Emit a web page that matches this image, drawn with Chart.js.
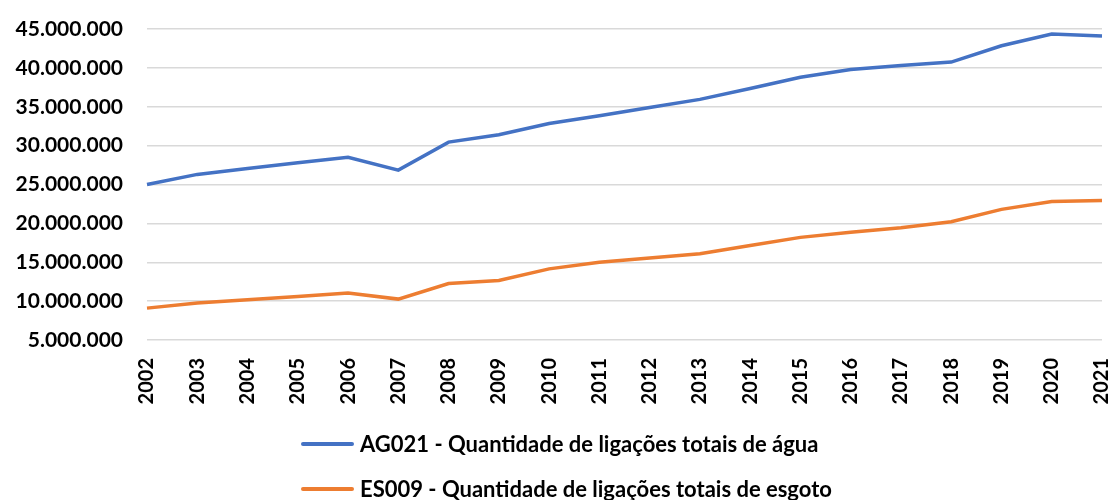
<!DOCTYPE html>
<html>
<head>
<meta charset="utf-8">
<script src="https://cdn.jsdelivr.net/npm/chart.js@4.4.1/dist/chart.umd.min.js"></script>
<style>
  html, body { margin: 0; padding: 0; background: #fff; }
  #wrap { position: relative; width: 1112px; height: 500px; }
  #legend { position: absolute; left: 301px; top: 421px; font-family: Lato, sans-serif; font-weight: bold; font-size: 22px; color: #000; }
  #legend div { display: flex; align-items: center; height: 45px; white-space: nowrap; }
  #legend span.swatch { display: inline-block; width: 53px; height: 4px; border-radius: 2px; margin-right: 6px; }
</style>
</head>
<body>
<div id="wrap">
  <canvas id="chart" width="1112" height="500"></canvas>
  <div id="legend"></div>
</div>
<script>
const years = ["2002","2003","2004","2005","2006","2007","2008","2009","2010","2011",
               "2012","2013","2014","2015","2016","2017","2018","2019","2020","2021"];

const aguaLabel = "AG021 - Quantidade de ligações totais de água";
const aguaValues = [25000000, 26300000, 27050000, 27800000, 28500000, 26850000, 30450000, 31400000, 32850000, 33850000,
                    34900000, 35950000, 37350000, 38800000, 39800000, 40300000, 40750000, 42850000, 44350000, 44100000];

const esgotoLabel = "ES009 - Quantidade de ligações totais de esgoto";
const esgotoValues = [9100000, 9750000, 10170000, 10600000, 11030000, 10260000, 12270000, 12660000, 14150000, 15000000,
                      15550000, 16100000, 17150000, 18200000, 18850000, 19450000, 20200000, 21800000, 22800000, 22950000];

const yTicks = { min: 5000000, max: 45000000, step: 5000000 };

function formatPt(v) {
    return String(v).replace(/\B(?=(\d{3})+(?!\d))/g, ".");
}

const chart = new Chart(document.getElementById("chart").getContext("2d"), {
    type: "line",
    data: {
        labels: years,
        datasets: [
            { label: aguaLabel, data: aguaValues, borderColor: "#4472C4", backgroundColor: "#4472C4", borderWidth: 3.5, pointRadius: 0, tension: 0 },
            { label: esgotoLabel, data: esgotoValues, borderColor: "#ED7D31", backgroundColor: "#ED7D31", borderWidth: 3.5, pointRadius: 0, tension: 0 }
        ]
    },
    options: {
        responsive: false,
        animation: false,
        layout: { padding: { top: 29, right: 10, left: 0, bottom: 0 } },
        plugins: {
            legend: { display: false },
            tooltip: { enabled: false }
        },
        scales: {
            x: {
                grid: { display: false },
                border: { display: false },
                ticks: { color: "#000", font: { family: "Lato, sans-serif", weight: "bold", size: 20 }, minRotation: 90, maxRotation: 90, padding: 10 },
                afterFit: function(scale) {
                    scale.height = 160;
                    scale.paddingLeft = 0;
                    scale.paddingRight = 0;
                }
            },
            y: {
                min: yTicks.min,
                max: yTicks.max,
                grid: { color: "#d9d9d9", lineWidth: 1.5, drawTicks: false },
                border: { display: false },
                ticks: {
                    stepSize: yTicks.step,
                    color: "#000",
                    font: { family: "Lato, sans-serif", weight: "bold", size: 21 },
                    padding: 24,
                    callback: function(v) { return formatPt(v); }
                },
                afterFit: function(scale) {
                    scale.width = 147;
                    scale.paddingTop = 0;
                    scale.paddingBottom = 0;
                }
            }
        }
    }
});

// legend below the chart, one entry per row
const legendBox = document.getElementById("legend");
chart.data.datasets.forEach(function(ds) {
    const row = document.createElement("div");
    const swatch = document.createElement("span");
    swatch.className = "swatch";
    swatch.style.background = ds.borderColor;
    row.appendChild(swatch);
    row.appendChild(document.createTextNode(ds.label));
    legendBox.appendChild(row);
});
</script>
</body>
</html>
